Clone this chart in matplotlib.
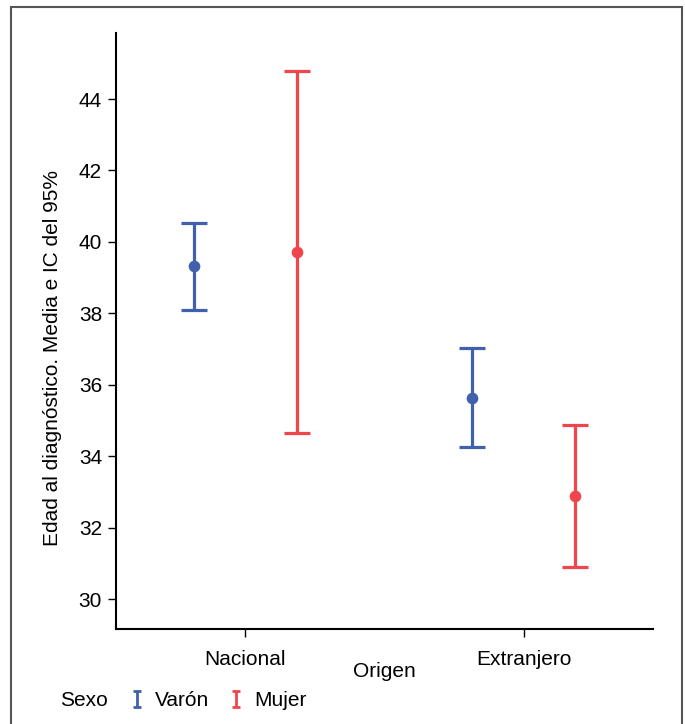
import matplotlib
matplotlib.use("Agg")
import matplotlib.pyplot as plt
import numpy as np
from matplotlib.path import Path
from matplotlib.lines import Line2D
from matplotlib.patches import Rectangle

plt.rcParams['font.family'] = ['Liberation Sans', 'DejaVu Sans']

categories = ["Nacional", "Extranjero"]
groups = ["Varón", "Mujer"]
colors = {"Varón": "#4160AE", "Mujer": "#F0464B"}
means = {"Varón": [39.32, 35.64], "Mujer": [39.73, 32.89]}
lower = {"Varón": [38.10, 34.25], "Mujer": [34.65, 30.90]}
upper = {"Varón": [40.52, 37.02], "Mujer": [44.79, 34.88]}
yticks = [30, 32, 34, 36, 38, 40, 42, 44]

W, H = 685, 724
fig = plt.figure(figsize=(W / 100, H / 100), dpi=100)
ax = fig.add_axes([116 / W, 1 - 629 / H, (653 - 116) / W, (629 - 33) / H])

offsets = {"Varón": -0.185, "Mujer": 0.185}
x = np.arange(len(categories))
for g in groups:
    m = np.array(means[g])
    lo = m - np.array(lower[g])
    hi = np.array(upper[g]) - m
    ax.errorbar(x + offsets[g], m, yerr=[lo, hi], fmt='o', color=colors[g],
                ecolor=colors[g], elinewidth=2.3, capsize=9.4, capthick=2.3,
                markersize=7.4, zorder=3)

ax.set_xlim(-0.464, 1.464)
ax.set_ylim(29.16, 45.85)
ax.set_yticks(yticks)
ax.set_xticks(x)
ax.set_xticklabels(categories)
for s in ['top', 'right']:
    ax.spines[s].set_visible(False)
for s in ['left', 'bottom']:
    ax.spines[s].set_linewidth(1.5)
ax.tick_params(axis='both', labelsize=15, length=6, width=1)
ax.tick_params(axis='y', pad=4)
ax.tick_params(axis='x', pad=9)

ax.set_xlabel("Origen", fontsize=15)
ax.xaxis.set_label_coords(0.5, -0.056)

fig.text(53 / W, 1 - 358 / H, "Edad al diagnóstico. Media e IC del 95%",
         rotation=90, ha='center', va='center', fontsize=15)

# legend
ibeam = Path([(-0.5, 1), (0.5, 1), (0, 1), (0, -1), (-0.5, -1), (0.5, -1)],
             [Path.MOVETO, Path.LINETO, Path.MOVETO, Path.LINETO, Path.MOVETO, Path.LINETO])
handles = [Line2D([], [], marker=ibeam, linestyle='none', markersize=11,
                  markeredgewidth=2, color=colors[g], markerfacecolor='none')
           for g in groups]
fig.text(60 / W, 1 - 700 / H, "Sexo", ha='left', va='center', fontsize=15)
fig.legend(handles, groups, loc='center left', bbox_to_anchor=(126.6 / W, 1 - 701 / H),
           ncol=2, frameon=False, fontsize=15, borderpad=0, borderaxespad=0,
           handlelength=1, handletextpad=0.37, columnspacing=0.77)

fig.patches.append(Rectangle((11 / W, -0.02), (682 - 11) / W, (724 - 7) / H + 0.02,
                             transform=fig.transFigure, fill=False,
                             edgecolor='#555555', linewidth=1.5))

fig.savefig("out.png", dpi=100)
